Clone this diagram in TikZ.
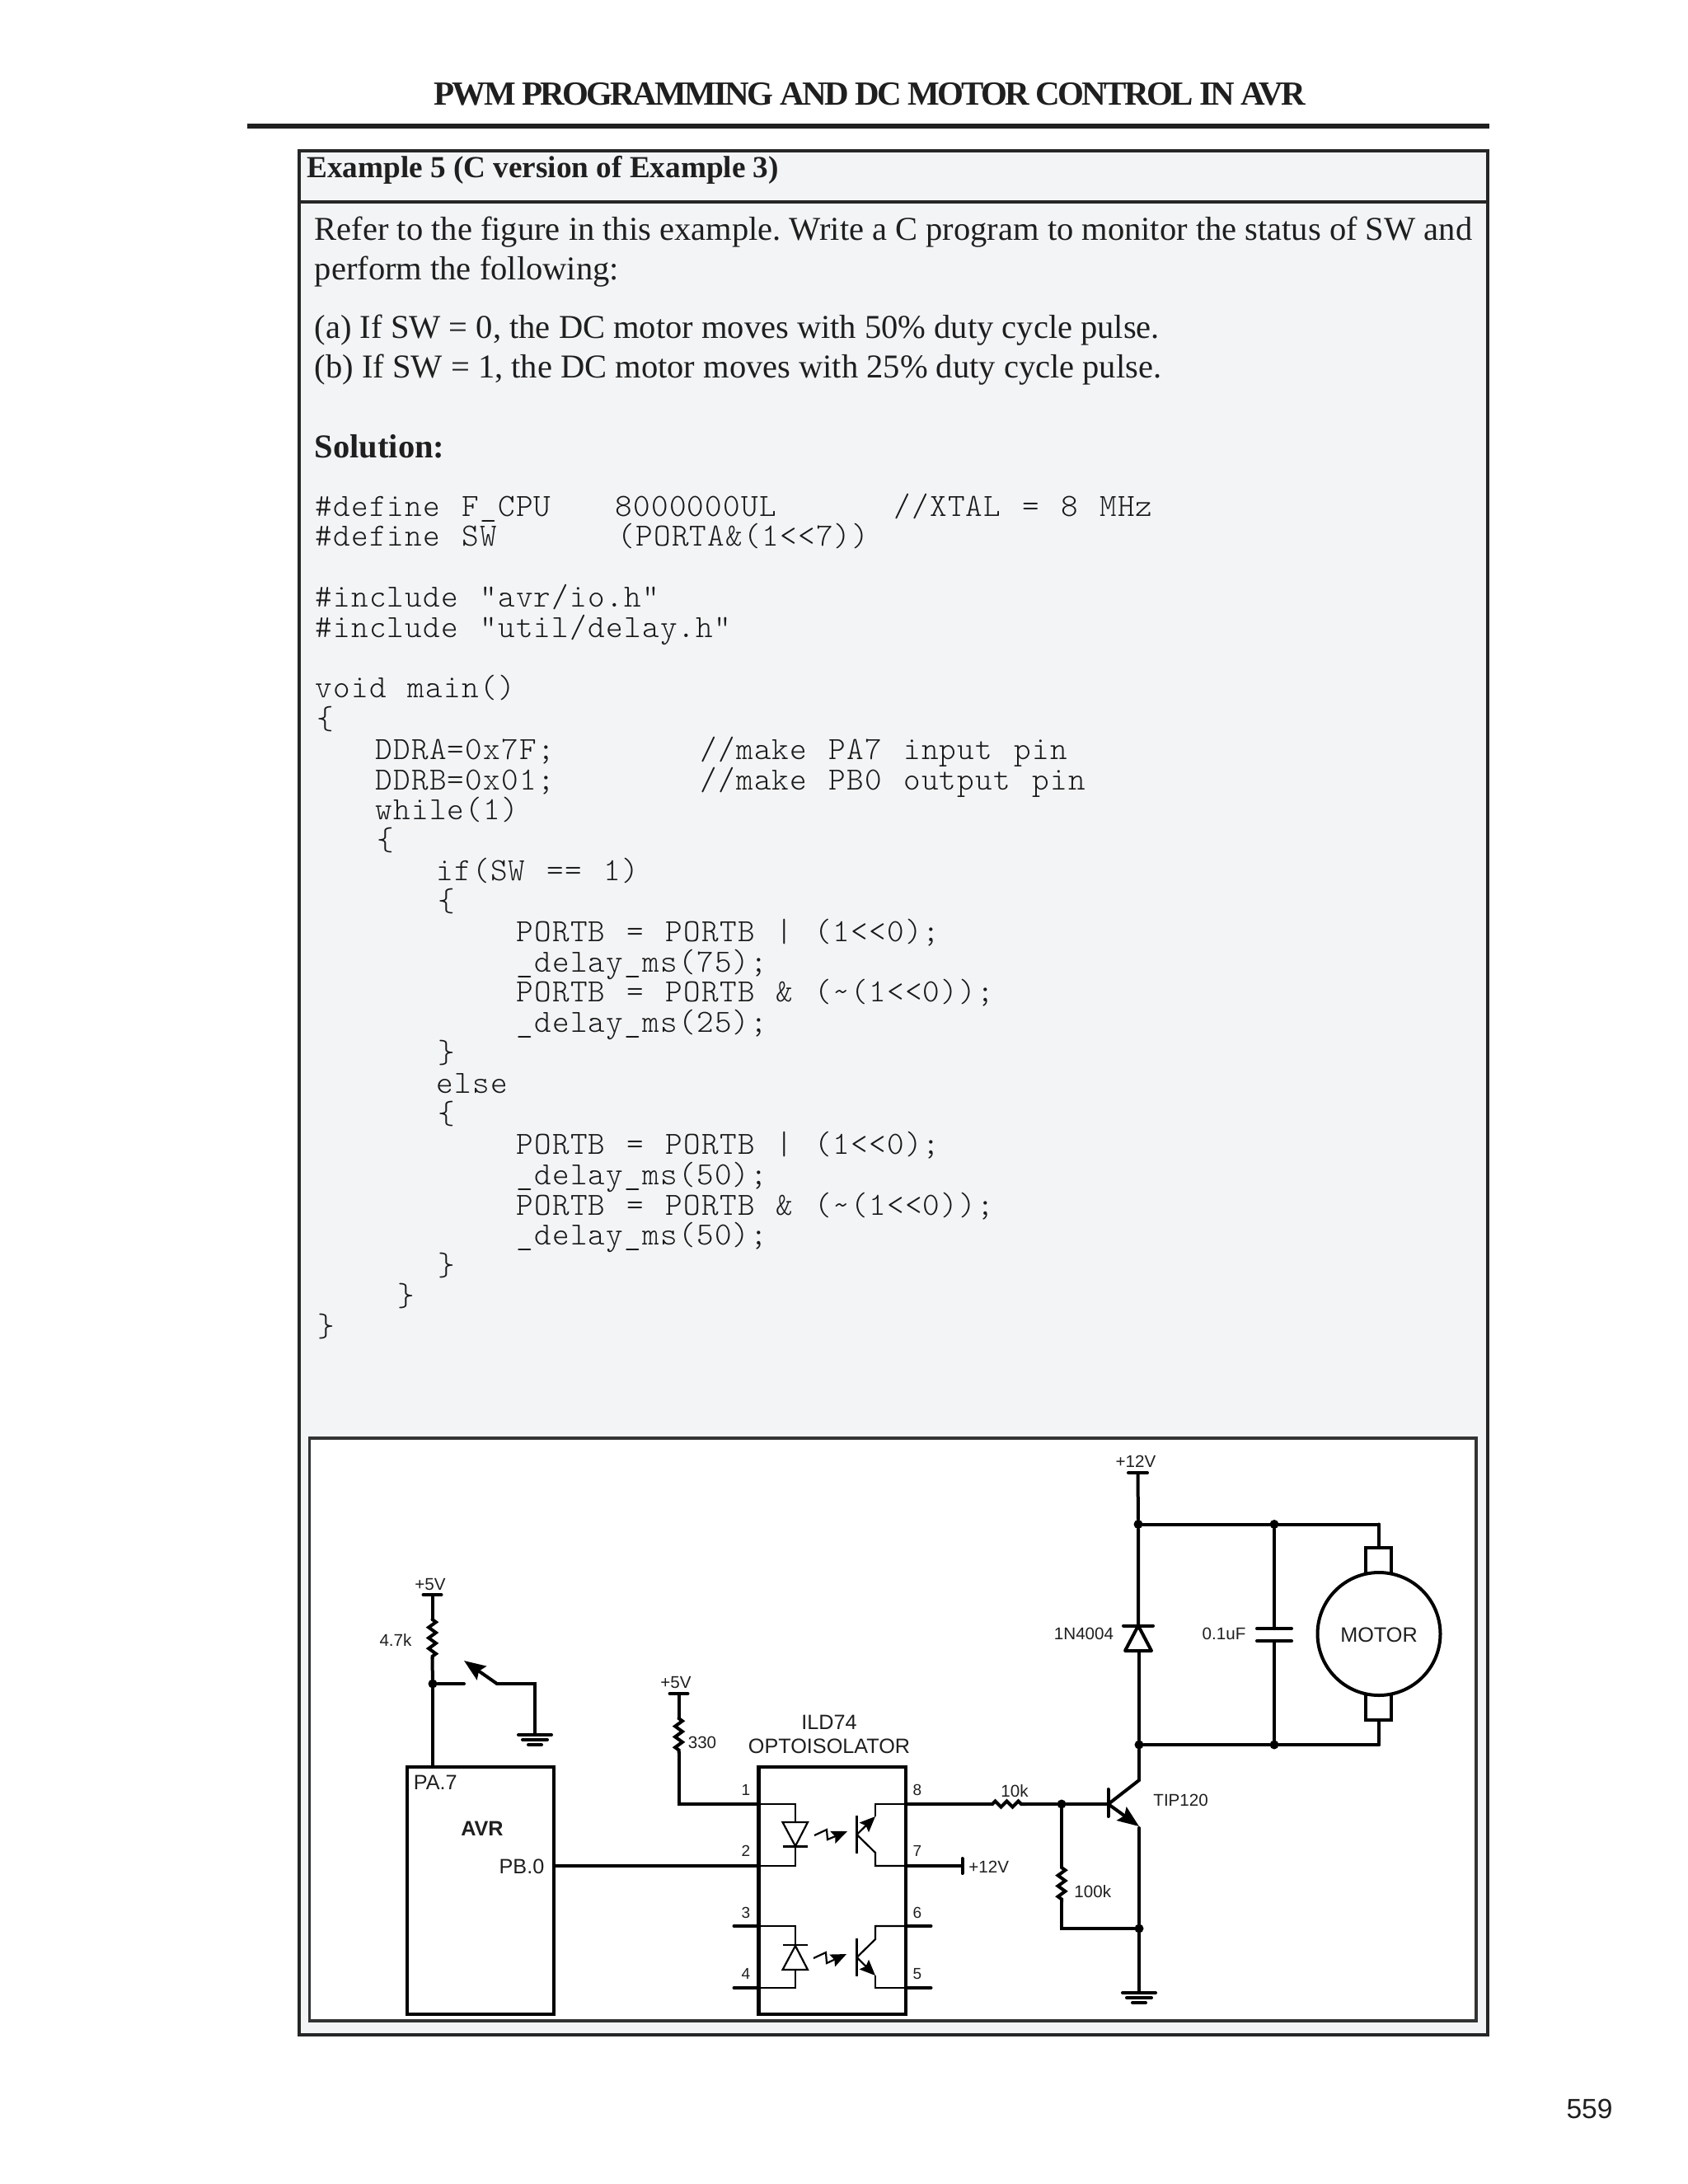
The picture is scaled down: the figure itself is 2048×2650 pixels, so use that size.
\documentclass[tikz,border=0pt]{standalone}
\usepackage{fontspec}
\setmainfont{Liberation Serif}
\setsansfont{Liberation Sans}
\newfontfamily\headfont[LetterSpace=-6.6]{Liberation Serif}
\newfontfamily\codefont[LetterSpace=3.3,WordSpace=1.2]{Latin Modern Mono Light}
\usetikzlibrary{arrows.meta,decorations.pathmorphing}
\frenchspacing

\begin{document}
\begin{tikzpicture}[x=0.5pt,y=-0.5pt]
\tikzset{bodytxt/.style={anchor=base west, inner sep=0pt, text=black!88, font=\fontsize{20.25}{24}\selectfont},
  headtxt/.style={bodytxt, font=\fontsize{20.25}{24}\selectfont\bfseries},
  codetxt/.style={anchor=base west, inner sep=0pt, text=black!90, font=\fontsize{19.6}{24}\codefont},
  lbl/.style={inner sep=0pt, anchor=base, text=black!88, font=\fontsize{12.6}{14}\sffamily},
  sml/.style={lbl, font=\fontsize{10.3}{12}\sffamily},
  pinlbl/.style={lbl, font=\fontsize{9.5}{10}\sffamily},
  chipbox/.style={draw, line width=2.2pt, inner sep=0pt, outer sep=0pt, anchor=north west},
  wire/.style={line width=2pt, line cap=round},
  thinw/.style={line width=1.1pt},
  jdot/.style={circle, fill, inner sep=0pt, minimum size=5.5pt},
  zzv/.style={wire, decorate, decoration={zigzag, segment length=6.4pt, amplitude=2.2pt}},
  zzh/.style={wire, decorate, decoration={zigzag, segment length=7pt, amplitude=1.8pt}},
  tipa/.style={-{Stealth[length=13pt, width=10pt, inset=2pt]}},
  tipb/.style={-{Stealth[length=9.5pt, width=8pt, inset=1.5pt]}}}
\useasboundingbox (0,0) rectangle (2048,2650);
\fill[white] (0,0) rectangle (2048,2650);

% page heading and panels
\node[anchor=base west, inner sep=0pt, text=black!88, font=\fontsize{20.5}{24}\headfont\bfseries] (title) at (526,127) {PWM PROGRAMMING AND DC MOTOR CONTROL IN AVR};
\fill[black!88] (300,150) rectangle (1807,156);
\draw[line width=1.8pt, black!85, fill={rgb,255:red,243;green,244;blue,246}] (363,183) rectangle (1805,2469);
\draw[line width=1.8pt, black!85] (363,245) -- (1805,245);
\draw[line width=1.8pt, black!80, fill=white] (375.5,1745) rectangle (1791,2452);
\node[lbl, anchor=base east, font=\fontsize{16.8}{20}\sffamily] (pageno) at (1957,2570) {559};

% text above the code
\node[headtxt, font=\fontsize{18.6}{24}\selectfont\bfseries] (exhead) at (372,215) {Example 5 (C version of Example 3)};
\node[bodytxt] (t1) at (381.5,291) {Refer to the figure in this example. Write a C program to monitor the status of SW and};
\node[bodytxt] (t2) at (381.5,339) {perform the following:};
\node[bodytxt] (t3) at (381.5,410) {(a) If SW = 0, the DC motor moves with 50\% duty cycle pulse.};
\node[bodytxt] (t4) at (381.5,458) {(b) If SW = 1, the DC motor moves with 25\% duty cycle pulse.};
\node[headtxt] (sol) at (381.5,555) {Solution:};

% code
\node[codetxt] (c1) at (382,626) {\#define F\_CPU};
\node[codetxt] (c1b) at (746,626) {8000000UL};
\node[codetxt] (c1c) at (1084,626) {//XTAL = 8 MHz};
\node[codetxt] (c2) at (382,662) {\#define SW};
\node[codetxt] (c2b) at (749,662) {(PORTA\&(1<{}<7))};
\node[codetxt] (c3) at (382,736) {\#include "avr/io.h"};
\node[codetxt] (c4) at (382,773) {\#include "util/delay.h"};
\node[codetxt] (c5) at (382,846) {void main()};
\node[codetxt] (c6) at (384,884) {\{};
\node[codetxt] (c7) at (455,921) {DDRA=0x7F;};
\node[codetxt] (c7b) at (849,921) {//make PA7 input pin};
\node[codetxt] (c8) at (455,958) {DDRB=0x01;};
\node[codetxt] (c8b) at (849,958) {//make PB0 output pin};
\node[codetxt] (c9) at (455,994) {while(1)};
\node[codetxt] (c10) at (457,1031) {\{};
\node[codetxt] (c11) at (529,1068) {if(SW == 1)};
\node[codetxt] (c12) at (531,1105) {\{};
\node[codetxt] (c13) at (626,1142) {PORTB = PORTB | (1<{}<0);};
\node[codetxt] (c14) at (626,1179) {\_delay\_ms(75);};
\node[codetxt] (c15) at (626,1215) {PORTB = PORTB \& (\textasciitilde(1<{}<0));};
\node[codetxt] (c16) at (626,1252) {\_delay\_ms(25);};
\node[codetxt] (c17) at (531,1289) {\}};
\node[codetxt] (c18) at (529,1326) {else};
\node[codetxt] (c19) at (531,1363) {\{};
\node[codetxt] (c20) at (626,1400) {PORTB = PORTB | (1<{}<0);};
\node[codetxt] (c21) at (626,1437) {\_delay\_ms(50);};
\node[codetxt] (c22) at (626,1474) {PORTB = PORTB \& (\textasciitilde(1<{}<0));};
\node[codetxt] (c23) at (626,1510) {\_delay\_ms(50);};
\node[codetxt] (c24) at (531,1547) {\}};
\node[codetxt] (c25) at (482,1584) {\}};
\node[codetxt] (c26) at (385,1621) {\}};

% chips
\node[chipbox, minimum width=89pt, minimum height=150pt] (AVR) at (494,2144) {};
\node[chipbox, minimum width=89.2pt, minimum height=150pt] (ILD) at (920.5,2144) {};
\node[lbl, anchor=base west] (pa7) at (501.5,2171) {PA.7};
\node[lbl, font=\fontsize{12.6}{14}\sffamily\bfseries] (avrname) at (585,2227) {AVR};
\node[lbl] (pb0) at (633,2273) {PB.0};
\node[lbl] (ildname) at (1006,2098) {ILD74};
\node[lbl] (ildsub) at (1006,2127) {OPTOISOLATOR};

% points on the left side
\coordinate (P5a) at (524.5,1935);
\coordinate (R1a) at (524.5,1965);
\coordinate (R1b) at (524.5,2012);
\node[jdot] (J1) at (525,2043) {};
\coordinate (PA) at (525,2144);
\coordinate (SWa) at (563,2043);
\coordinate (SWb) at (603,2043);
\coordinate (SWtip) at (563,2015);
\coordinate (SWc) at (649,2043);
\coordinate (G1) at (649,2105);
\coordinate (P5b) at (823.5,2055);
\coordinate (R2a) at (823.5,2085);
\coordinate (R2b) at (823.5,2126);
\coordinate (W1) at (823.5,2189);
\coordinate (Pin1) at (920.5,2189);
\coordinate (Pin2) at (920.5,2264);
\coordinate (Pin3) at (920.5,2337);
\coordinate (Pin4) at (920.5,2412);
\coordinate (Pin8) at (1098.5,2189);
\coordinate (Pin7) at (1098.5,2264);
\coordinate (Pin6) at (1098.5,2337);
\coordinate (Pin5) at (1098.5,2412);
\coordinate (PBw) at (672.5,2264);

% pull up and switch
\draw[wire] (P5a) ++(-11,0) -- ++(22,0);
\node[sml] (v5a) at (522,1929) {+5V};
\node[sml] (r47) at (480,1997) {4.7k};
\draw[wire] (P5a) -- (R1a);
\draw[zzv] (R1a) -- (R1b);
\draw[wire] (R1b) -- (J1);
\draw[wire] (J1) -- (PA);
\draw[wire] (J1) -- (SWa);
\draw[wire, tipa] (SWb) -- (SWtip);
\draw[wire] (SWb) -- (SWc) -- (G1);
\draw[wire] (G1) ++(-20,0) -- ++(40,0);
\draw[wire] (G1) ++(-15,6) -- ++(30,0);
\draw[wire] (G1) ++(-8,12) -- ++(16,0);

% supply of the LED
\draw[wire] (P5b) ++(-11,0) -- ++(22,0);
\node[sml] (v5b) at (820,2048) {+5V};
\node[sml] (r330) at (852,2121) {330};
\draw[wire] (P5b) -- (R2a);
\draw[zzv] (R2a) -- (R2b);
\draw[wire] (R2b) -- (W1) -- (Pin1);
\draw[wire] (PBw) -- (Pin2);

% pins
\node[pinlbl] (n1) at (905,2178) {1};
\node[pinlbl] (n2) at (905,2252) {2};
\node[pinlbl] (n3) at (905,2327) {3};
\node[pinlbl] (n4) at (905,2401) {4};
\node[pinlbl] (n8) at (1113,2178) {8};
\node[pinlbl] (n7) at (1113,2252) {7};
\node[pinlbl] (n6) at (1113,2327) {6};
\node[pinlbl] (n5) at (1113,2401) {5};
\draw[wire] (Pin3) -- ++(-30,0);
\draw[wire] (Pin4) -- ++(-30,0);
\draw[wire] (Pin6) -- ++(31,0);
\draw[wire] (Pin5) -- ++(31,0);

% upper channel
\draw[thinw] (Pin1) -- ++(44.5,0) -- (965,2264) -- (Pin2);
\draw[thinw, fill=white] (949.5,2211) -- (980,2211) -- (965,2240) -- cycle;
\draw[thinw] (949.5,2240.5) -- (980,2240.5);
\draw[thinw, tipb] (988,2227) -- (1003,2220) -- (1004,2232) -- (1028,2222);
\draw[thinw] (1039.5,2203) -- (1039.5,2249);
\draw[thinw, tipb] (1039.5,2226) -- (1062,2204);
\draw[thinw] (1062,2204) -- (1062,2189) -- (Pin8);
\draw[thinw] (1039.5,2226) -- (1062,2248) -- (1062,2264) -- (Pin7);

% lower channel
\draw[thinw] (Pin3) -- ++(44.5,0) -- (965,2412) -- (Pin4);
\draw[thinw, fill=white] (949.5,2390) -- (980,2390) -- (965,2361) -- cycle;
\draw[thinw] (949.5,2360) -- (980,2360);
\draw[thinw, tipb] (987,2376) -- (1002,2369) -- (1003,2382) -- (1027,2371);
\draw[thinw] (1039.5,2352) -- (1039.5,2398);
\draw[thinw] (1039.5,2375) -- (1062,2353) -- (1062,2337) -- (Pin6);
\draw[thinw, tipb] (1039.5,2375) -- (1062,2397);
\draw[thinw] (1062,2397) -- (1062,2412) -- (Pin5);

% output side
\coordinate (R3a) at (1204,2189);
\coordinate (R3b) at (1245,2189);
\node[jdot] (J2) at (1288,2189) {};
\coordinate (Tb) at (1345,2189);
\coordinate (R4a) at (1288,2266);
\coordinate (R4b) at (1288,2308);
\coordinate (W2) at (1288,2340);
\node[jdot] (J3) at (1382,2340) {};
\coordinate (V12) at (1167.5,2264);
\draw[wire] (Pin8) -- (R3a);
\draw[zzh] (R3a) -- (R3b);
\draw[wire] (R3b) -- (J2);
\draw[wire] (J2) -- (Tb);
\draw[wire] (J2) -- (R4a);
\draw[zzv] (R4a) -- (R4b);
\draw[wire] (R4b) -- (W2) -- (J3);
\draw[wire] (Pin7) -- (V12);
\draw[wire] (V12) ++(0,-9) -- ++(0,18);
\node[sml, anchor=base west] (v12a) at (1175,2272) {+12V};
\node[sml] (r10k) at (1231,2180) {10k};
\node[sml, anchor=base west] (r100k) at (1303,2302) {100k};

% transistor, diode, capacitor, motor
\coordinate (V12b) at (1380.5,1787);
\node[jdot] (J4) at (1381,1849.5) {};
\node[jdot] (J5) at (1546,1849.5) {};
\node[jdot] (J6) at (1382,2117) {};
\node[jdot] (J7) at (1546,2117) {};
\coordinate (MT) at (1673,1849.5);
\coordinate (MB) at (1673,2117);
\coordinate (Cc) at (1382,2160);
\coordinate (Ee) at (1382,2216);
\coordinate (Ef) at (1382,2218);
\coordinate (G2) at (1382,2418);
\coordinate (D1) at (1381,1972.5);
\coordinate (D2) at (1382,2003);
\coordinate (C1) at (1546,1976);
\coordinate (C2) at (1546,1991);
\node[sml] (v12b) at (1378,1780) {+12V};
\draw[wire] (V12b) ++(-11.5,0) -- ++(23,0);
\draw[wire] (V12b) -- (J4) -- (D1);
\draw[wire] (D1) ++(-18,0) -- ++(36,0);
\draw[wire, line join=round] (D1) -- (1397,2003) -- (1365,2003) -- cycle;
\draw[wire] (D2) -- (J6) -- (Cc);
\draw[wire] (J4) -- (J5) -- (MT);
\draw[wire] (J6) -- (J7) -- (MB);
\draw[wire] (J5) -- (C1);
\draw[wire] (C1) ++(-21,0) -- ++(42,0);
\draw[wire] (C2) ++(-21,0) -- ++(42,0);
\draw[wire] (C2) -- (J7);
\node[sml] (d1n) at (1315,1989) {1N4004};
\node[sml] (c01) at (1485,1989) {0.1uF};
\node[sml, anchor=base west] (tip) at (1399,2191) {TIP120};

\draw[wire] (1344.5,2171) -- (1344.5,2204);
\draw[wire] (1346,2188) -- (Cc);
\draw[wire, tipa] (1346,2190) -- (Ee);
\draw[wire] (Ef) -- (J3) -- (G2);
\draw[wire] (G2) ++(-20,0) -- ++(40,0);
\draw[wire] (G2) ++(-15,6) -- ++(30,0);
\draw[wire] (G2) ++(-8,12) -- ++(16,0);

\draw[wire] (MT) -- (1673,1878);
\draw[wire] (1657,1908) -- (1657,1878) -- (1688,1878) -- (1688,1908);
\draw[wire] (MB) -- (1673,2087);
\draw[wire] (1657,2057) -- (1657,2087) -- (1688,2087) -- (1688,2057);
\node[draw, circle, line width=2pt, minimum size=74.5pt, inner sep=0pt] (MOT) at (1673,1982.5) {};
\node[lbl] (motname) at (1673,1992) {MOTOR};
\end{tikzpicture}
\end{document}
